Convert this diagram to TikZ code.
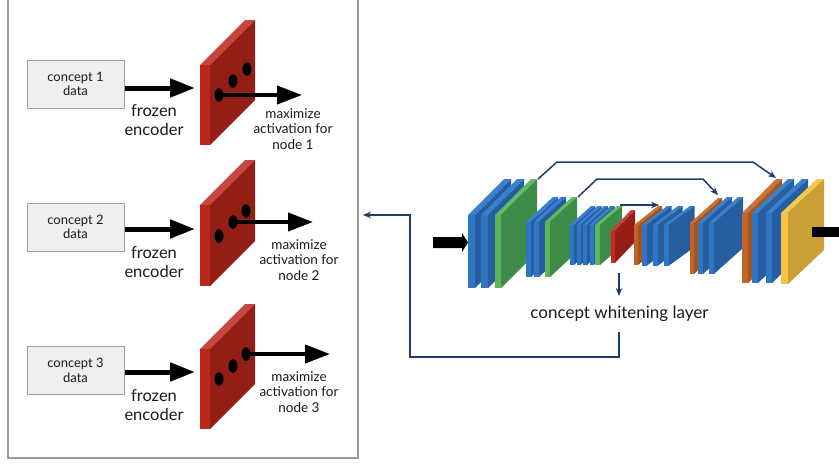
\documentclass[tikz,border=0pt]{standalone}
\usepackage{fontspec}
\setmainfont{Lato}
\usetikzlibrary{arrows.meta,shapes.geometric}
% slab colours: f = front strip, s = side face, t = top strip
\definecolor{blf}{HTML}{2F75C3}\definecolor{bls}{HTML}{275E9F}\definecolor{blt}{HTML}{3A80CE}
\definecolor{grf}{HTML}{5DB55C}\definecolor{grs}{HTML}{3E8A49}\definecolor{grt}{HTML}{62BA60}
\definecolor{orf}{HTML}{C0652A}\definecolor{ors}{HTML}{A5531F}\definecolor{ort}{HTML}{C97132}
\definecolor{yef}{HTML}{F6C340}\definecolor{yes}{HTML}{C9A035}\definecolor{yet}{HTML}{F4C848}
\definecolor{rdf}{HTML}{C62A1E}\definecolor{rds}{HTML}{951F15}\definecolor{rdt}{HTML}{C93F33}
\definecolor{lrf}{HTML}{B8261C}\definecolor{lrs}{HTML}{931E15}\definecolor{lrt}{HTML}{C6463E}
\definecolor{navy}{HTML}{1F3B70}
\definecolor{boxfill}{HTML}{EFEFEF}
\definecolor{boxline}{HTML}{9E9E9E}
\definecolor{panel}{HTML}{9A9A9A}
\definecolor{txt}{HTML}{1A1A1A}
% #1 x, #2 ytop, #3 ybot, #4 thickness, #5 dx, #6 dy, #7 colour prefix
\newcommand\slab[7]{%
  \fill[#7t] (#1,#2) -- ({#1+#4},#2) -- ({#1+#4+#5},{#2-#6}) -- ({#1+#5},{#2-#6}) -- cycle;
  \fill[#7s] ({#1+#4},#2) -- ({#1+#4+#5},{#2-#6}) -- ({#1+#4+#5},{#3-#6}) -- ({#1+#4},#3) -- cycle;
  \fill[#7f] (#1,#2) rectangle ({#1+#4},#3);
}
\begin{document}
\begin{tikzpicture}[x=1pt,y=-1pt,
  cbox/.style={draw=boxline,line width=1pt,fill=boxfill,minimum width=97pt,minimum height=48pt,
    inner sep=0pt,align=center,text=txt,font=\fontsize{13}{14.5}\selectfont},
  enclabel/.style={align=center,text=txt,font=\fontsize{16.5}{19.5}\selectfont},
  maxlabel/.style={align=center,text=txt,font=\fontsize{13.5}{15.5}\selectfont},
  bigarrow/.style={line width=5pt,-{Triangle[length=25pt,width=18pt]}},
  dotnode/.style={ellipse,fill=black,inner sep=0pt,minimum width=9pt,minimum height=13.5pt},
  skiparrow/.style={navy,line width=1.5pt,-{Stealth[length=8pt,width=6.5pt]}},
]
\useasboundingbox (0,0) rectangle (839,464);
% ---------- left panel ----------
\draw[panel,line width=1.3pt] (8,-5) rectangle (358,458);

% row 1
\node[cbox] (c1) at (75.5,84) {concept 1\\data};
\coordinate (c1o) at (c1.east |- 0,88);
\coordinate (e1) at (195,88);
\draw[bigarrow] (c1o) -- (e1);
\node[enclabel] (f1) at (154,120) {frozen\\encoder};
\slab{200}{65}{145}{10}{45}{45}{lr}
\node[dotnode] (d11) at (219,95) {};
\node[dotnode] (d12) at (233,81) {};
\node[dotnode] (d13) at (247,69) {};
\coordinate (o1) at (302,95);
\draw[bigarrow,line width=4pt] (d11.center) -- (o1);
\node[maxlabel] (m1) at (293,129) {maximize\\activation for\\node 1};

% row 2
\node[cbox] (c2) at (75.5,227) {concept 2\\data};
\coordinate (c2o) at (c2.east |- 0,229);
\coordinate (e2) at (195,229);
\draw[bigarrow] (c2o) -- (e2);
\node[enclabel] (f2) at (154,262) {frozen\\encoder};
\slab{200}{205}{286}{10}{45}{45}{lr}
\node[dotnode] (d21) at (219,236) {};
\node[dotnode] (d22) at (233,222) {};
\node[dotnode] (d23) at (246,211) {};
\coordinate (o2) at (313,222);
\draw[bigarrow,line width=4pt] (d22.center) -- (o2);
\node[maxlabel] (m2) at (299,260) {maximize\\activation for\\node 2};

% row 3
\node[cbox] (c3) at (75.5,370.5) {concept 3\\data};
\coordinate (c3o) at (c3.east |- 0,372);
\coordinate (e3) at (195,372);
\draw[bigarrow] (c3o) -- (e3);
\node[enclabel] (f3) at (154,405) {frozen\\encoder};
\slab{200}{349}{429}{10}{45}{45}{lr}
\node[dotnode] (d31) at (219,379) {};
\node[dotnode] (d32) at (233,366) {};
\node[dotnode] (d33) at (246,354) {};
\coordinate (o3) at (330,354);
\draw[bigarrow,line width=4pt] (d33.center) -- (o3);
\node[maxlabel] (m3) at (299,392) {maximize\\activation for\\node 3};

% ---------- network ----------
% input block arrow
\fill[black] (433,237) -- (462,237) -- (462,233) -- (468,242.5) -- (462,252) -- (462,248) -- (433,248) -- cycle;
% group 1
\slab{468}{215}{288}{7}{36}{36}{bl}
\slab{481}{215}{288}{7}{36}{36}{bl}
\slab{495}{215}{288}{6}{36}{36}{gr}
% group 2
\slab{526}{222}{277}{5}{27}{25}{bl}
\slab{534}{222}{277}{5}{27}{25}{bl}
\slab{545}{222}{277}{5}{27}{25}{gr}
% group 3
\slab{570}{225}{265}{4}{21}{19}{bl}
\slab{576.5}{225}{265}{4}{21}{19}{bl}
\slab{583}{225}{265}{4}{21}{19}{bl}
\slab{589.5}{225}{265}{4}{21}{19}{bl}
\slab{595}{225}{265}{5}{22}{19}{gr}
% concept whitening slab
\slab{611}{231}{263}{4}{20}{21}{rd}
% group 4
\slab{634}{225}{265}{4}{24}{19}{or}
\slab{642}{225}{266}{4.5}{25}{19}{bl}
\slab{653}{225}{266}{4.5}{25}{19}{bl}
\slab{664}{225}{266}{4.5}{26}{19}{bl}
% group 5
\slab{690}{223}{274}{4}{28}{25}{or}
\slab{698}{223}{274}{5}{29}{26}{bl}
\slab{709}{223}{274}{5}{29}{26}{bl}
% group 6
\slab{742}{213}{283}{6}{34}{34}{or}
\slab{752}{213}{283}{6}{36}{34}{bl}
\slab{766}{213}{283}{6}{36}{34}{bl}
\slab{781}{213}{284}{7}{36}{34}{ye}
% output bar
\fill[black] (812,227) rectangle (839,237);

% skip connections
\coordinate (k1a) at (538,179);
\coordinate (k1b) at (557,162);
\coordinate (k1c) at (753,162);
\coordinate (k1d) at (776,178);
\draw[skiparrow] (k1a) -- (k1b) -- (k1c) -- (k1d);
\coordinate (k2a) at (578,197);
\coordinate (k2b) at (597,179);
\coordinate (k2c) at (703,179);
\coordinate (k2d) at (718,195);
\draw[skiparrow] (k2a) -- (k2b) -- (k2c) -- (k2d);
\coordinate (k3a) at (620,205);
\coordinate (k3b) at (659,205);
\draw[skiparrow] (k3a) -- (k3b);

% concept whitening label and arrows
\node[text=txt,font=\fontsize{17}{20}\selectfont] (cw) at (619.5,313.5) {concept whitening layer};
\coordinate (cwtop) at (619,273);
\coordinate (cwin) at (619,296);
\draw[skiparrow] (cwtop) -- (cwin);
\coordinate (fb0) at (619,332);
\coordinate (fb1) at (619,357);
\coordinate (fb2) at (410,357);
\coordinate (fb3) at (410,215);
\coordinate (fb4) at (363,215);
\draw[skiparrow,line width=1.8pt] (fb0) -- (fb1) -- (fb2) -- (fb3) -- (fb4);
\end{tikzpicture}
\end{document}
